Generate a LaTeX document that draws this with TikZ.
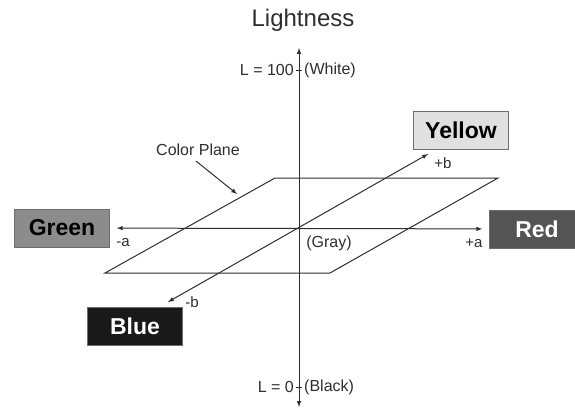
\documentclass[tikz,border=0pt]{standalone}
\usepackage{fontspec}
\setmainfont{Liberation Sans}
\usetikzlibrary{positioning}

\definecolor{inkgray}{gray}{0.18}
\definecolor{yellowbox}{gray}{0.88}
\definecolor{greenbox}{gray}{0.55}
\definecolor{redbox}{gray}{0.33}
\definecolor{bluebox}{gray}{0.1}

\tikzset{
  >=latex,
  axis/.style={line width=1pt, draw=inkgray},
  colorbox/.style={draw=inkgray!70, line width=0.6pt, minimum width=95pt, minimum height=38pt,
    inner sep=0pt, font=\fontsize{23}{23}\selectfont\bfseries},
  lab/.style={font=\fontsize{16}{16}\selectfont, text=inkgray, inner sep=1pt},
  endlab/.style={font=\fontsize{15}{15}\selectfont, text=inkgray, inner sep=1pt}
}

\begin{document}
\begin{tikzpicture}[x=1pt, y=-1pt]
  \useasboundingbox (0,0) rectangle (575,410);
  % color plane
  \draw[axis] (105,273) -- (330,273) -- (498,178) -- (275,178) -- cycle;
  % axes end points
  \coordinate (O) at (299,228);
  \coordinate (Ltop) at (299,48);
  \coordinate (Lbot) at (299,407);
  \coordinate (bneg) at (168,302);
  \coordinate (bpos) at (428,154);
  % boxes
  \node[colorbox, fill=yellowbox, text=black] (yellow) at (461,130) {Yellow};
  \node[colorbox, fill=greenbox, text=black] (green) at (62,228) {Green};
  \node[colorbox, fill=redbox, text=white] (red) at (537,229) {Red};
  \node[colorbox, fill=bluebox, text=white] (blue) at (135,326) {Blue};
  % axes
  \draw[axis,<->] (Lbot) -- (Ltop);
  \draw[axis,<->,shorten <=7pt,shorten >=7pt] (green) -- (red);
  \draw[axis,<->] (bneg) -- (bpos);
  % ticks
  \coordinate (t100) at (299,70);
  \coordinate (t0) at (299,387);
  \draw[axis] ([xshift=-3pt]t100) -- ([xshift=3pt]t100);
  \draw[axis] ([xshift=-3pt]t0) -- ([xshift=3pt]t0);
  % labels
  \node[font=\fontsize{24}{24}\selectfont, text=inkgray] (title) at (303,20) {Lightness};
  \node[lab, left=4pt of t100] (lwhite) {L = 100};
  \node[lab, right=4pt of t100] (white) {(White)};
  \node[lab, left=4pt of t0] (lblack) {L = 0};
  \node[lab, right=4pt of t0] (black) {(Black)};
  \node[lab] (gray) at (329,243) {(Gray)};
  \node[endlab] (aminus) at (123,243) {-a};
  \node[endlab] (aplus) at (474,243) {+a};
  \node[endlab] (bplus) at (443,163) {+b};
  \node[endlab] (bminus) at (192,302) {-b};
  % plane pointer
  \node[lab] (plane) at (198,150) {Color Plane};
  \coordinate (planetip) at (237,194);
  \draw[axis,->] ([xshift=-2pt,yshift=-4pt]plane.south) -- (planetip);
\end{tikzpicture}
\end{document}
